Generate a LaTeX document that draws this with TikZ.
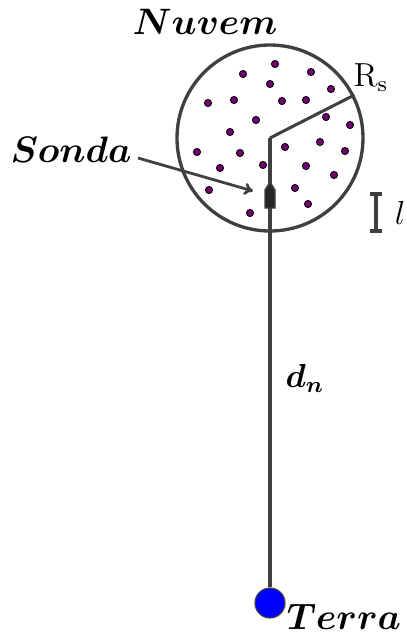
\documentclass[tikz,border=0pt]{standalone}
\usepackage{amsmath}
\usepackage{amssymb}
\usepackage{graphicx}
\usepackage{xcolor}
\usepackage{tikz}
\usetikzlibrary{arrows.meta,positioning,calc}
\definecolor{traco}{RGB}{64,64,64}
\definecolor{gota}{RGB}{112,0,112}
\definecolor{terrab}{RGB}{0,0,255}
\newcommand{\rotulo}[1]{\scalebox{0.92}{\Large$\boldsymbol{#1}$}}
\tikzset{
  nuvemc/.style={draw=traco,circle,line width=1.2pt,minimum size=66.96pt,inner sep=0pt},
  gotas/.style={fill=gota,draw=black,line width=0.3pt},
  fio/.style={draw=traco,line width=1.1pt},
  rot/.style={inner sep=0pt},
  rotp/.style={font=\large,inner sep=1pt},
  terrac/.style={circle,fill=terrab,draw=traco,line width=0.4pt,minimum size=10.8pt,inner sep=0pt},
  seta/.style={-{To[length=3.2pt,width=4.4pt]},draw=traco,line width=1pt},
}
\begin{document}
\begin{tikzpicture}[x=0.36pt,y=-0.36pt]
  \useasboundingbox (0,0) rectangle (407,634);

  \node[nuvemc] (nuvem) at (270,138) {};
  \coordinate (centro) at (nuvem.center);

  % gotas dentro da nuvem
  \foreach \gx/\gy in {275/64,243/74,311/72,270/84,331/89,208/103,234/100,282/101,
                       306/100,326/117,350/125,256/120,230/132,285/147,320/142,345/151,
                       197/152,240/153,220/168,263/165,306/166,334/175,209/190,295/188,
                       308/204,250/213}
    \fill[gotas] (\gx,\gy) circle (3.6);

  \node[terrac] (terra) at (270,603) {};

  \draw[fio] (centro) -- (nuvem.27);
  \draw[fio] (centro) -- (terra.north);

  % sonda sobre o fio
  \coordinate (sonda) at (264,192);
  \fill[black!85,draw=traco,line width=0.5pt]
    (270,182) -- (275,190) -- (275,208) -- (265,208) -- (265,190) -- cycle;

  \node[rot] (tnuvem) at (205,22) {\rotulo{Nuvem}};
  \node[rot] (tsonda) at (71,150) {\rotulo{Sonda}};
  \node[rot] (tterra) at (344,617) {\rotulo{Terra}};
  \node[rotp] (tdn) at (305,378) {$\boldsymbol{d_n}$};
  \node[rotp] (trs) at (371,78) {$\mathrm{R_s}$};
  \node[rotp] (tl) at (400,213) {$l$};

  \coordinate (ini) at (138,158);
  \draw[seta] (ini) -- ($(sonda)+(-11,-1)$);

  % escala l
  \coordinate (la) at (376,194);
  \coordinate (lb) at (376,231);
  \draw[fio,line width=1.2pt] (la) -- (lb);
  \draw[fio,line width=1.2pt] ($(la)+(-6,0)$) -- ($(la)+(6,0)$);
  \draw[fio,line width=1.2pt] ($(lb)+(-6,0)$) -- ($(lb)+(6,0)$);
\end{tikzpicture}
\end{document}
